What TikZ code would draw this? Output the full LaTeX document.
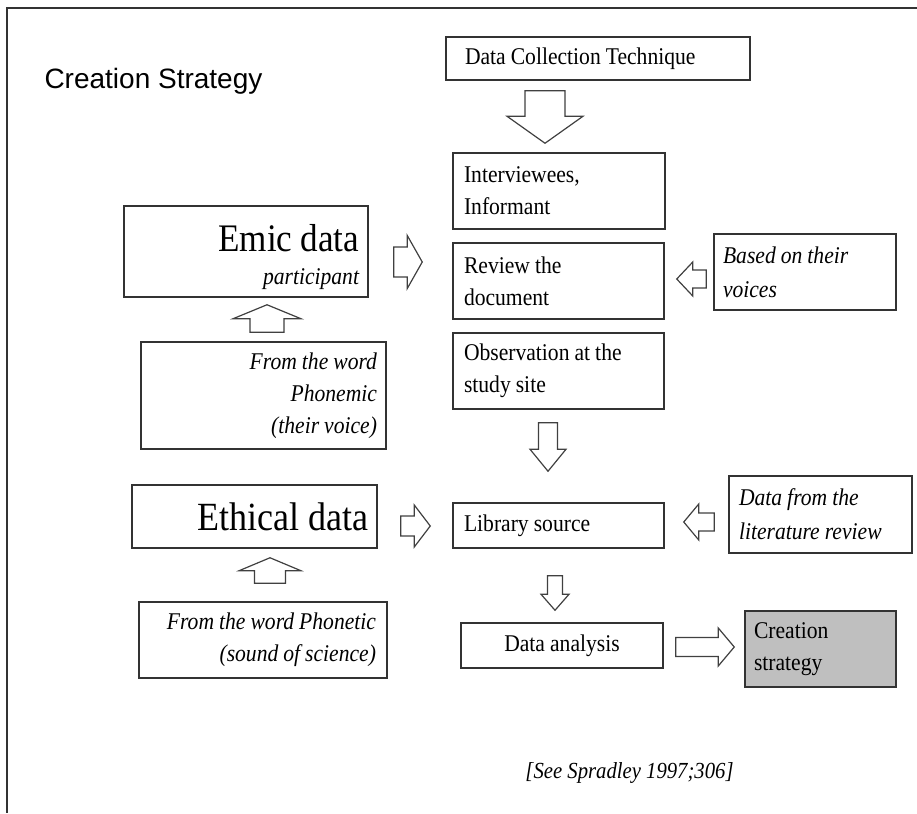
\documentclass[tikz,border=0pt]{standalone}
\usepackage{fontspec}
\setmainfont[FakeStretch=0.9]{Liberation Serif}
\setsansfont{Liberation Sans}
\usetikzlibrary{calc}

\tikzset{
  box/.style={draw=black!80, line width=1.5pt, rectangle, inner sep=0pt, align=left,
    font=\fontsize{24}{32}\selectfont, execute at begin node={\spaceskip=0.21em\relax}},
  note/.style={box, font=\fontsize{24}{34}\selectfont\itshape},
  fat/.style={draw=black!75, line width=1.2pt, fill=white, line join=miter},
}

% tail, tip, half shaft, half head, head length
\newcommand{\fatarrow}[5]{%
  \path #1 coordinate (fa-t) #2 coordinate (fa-p);
  \path ($(fa-p)!#5!(fa-t)$) coordinate (fa-h);
  \draw[fat] ($(fa-t)!#3!90:(fa-p)$) -- ($(fa-h)!#3!-90:(fa-t)$) -- ($(fa-h)!#4!-90:(fa-t)$)
    -- (fa-p) -- ($(fa-h)!#4!90:(fa-t)$) -- ($(fa-h)!#3!90:(fa-t)$) -- ($(fa-t)!#3!-90:(fa-p)$) -- cycle;
}

\begin{document}
\begin{tikzpicture}[x=1pt, y=-1pt]
  \useasboundingbox (0,0) rectangle (917,813);
  \draw[line width=2pt, black!80] (917,8) -- (7,8) -- (7,813);

  \node[anchor=base west, font=\sffamily\fontsize{28}{30}\selectfont] (title) at (41,89) {Creation Strategy};

  % middle column
  \node[box, minimum width=304pt, minimum height=43pt, text width=266pt] (dct) at (598,58.5) {Data Collection Technique};
  \node[box, minimum width=212pt, minimum height=76pt, text width=190pt] (interv) at (559,191) {Interviewees,\\Informant};
  \node[box, minimum width=211pt, minimum height=76pt, text width=189pt] (review) at (558.5,281) {Review the\\document};
  \node[box, minimum width=211pt, minimum height=76pt, text width=189pt] (observ) at (558.5,371) {Observation at the\\study site};
  \node[box, minimum width=211pt, minimum height=45pt, text width=189pt] (library) at (558.5,525.5) {Library source};
  \node[box, align=center, minimum width=202pt, minimum height=45pt, text width=180pt] (analysis) at (562,645.5) {Data analysis};
  \node[box, fill=black!25, minimum width=151pt, minimum height=76pt, text width=133pt] (strategy) at (820.5,649) {Creation\\strategy};

  % right column
  \node[note, minimum width=182pt, minimum height=76pt, text width=164pt] (voices) at (805,272) {Based on their\\voices};
  \node[note, minimum width=183pt, minimum height=77pt, text width=163pt] (litrev) at (820.5,514.5) {Data from the\\literature review};

  % left column
  \node[box, align=right, minimum width=244pt, minimum height=91pt, text width=226pt, font=\fontsize{24}{33}\selectfont] (emic) at (246,251.5)
    {\rule{0pt}{39pt}{\fontsize{39}{33}\selectfont\spaceskip=0.21em Emic data}\\{\itshape participant}};
  \node[note, align=right, minimum width=245pt, minimum height=107pt, text width=227pt, font=\fontsize{24}{32}\selectfont\itshape] (phonemic) at (263.5,395.5)
    {From the word\\Phonemic\\(their voice)};
  \node[box, align=right, minimum width=245pt, minimum height=63pt, text width=227pt, font=\fontsize{40}{40}\selectfont] (ethical) at (254.5,516.5) {Ethical data};
  \node[note, align=right, minimum width=248pt, minimum height=76pt, text width=226pt, font=\fontsize{24}{32}\selectfont\itshape] (phonetic) at (263,640)
    {From the word Phonetic\\(sound of science)};

  \node[font=\fontsize{23}{25}\selectfont\itshape] (cite) at (629.5,773) {[See Spradley 1997;306]};

  % block arrows
  \fatarrow{($(dct.south)+(-53,10)$)}{($(interv.north)+(-14,-9)$)}{20pt}{38pt}{27pt}
  \fatarrow{($(observ.south)+(-10.5,13)$)}{($(library.north)+(-10.5,-31)$)}{9.5pt}{18pt}{22pt}
  \fatarrow{($(library.south)+(-3.5,27)$)}{($(analysis.north)+(-7,-12)$)}{7.5pt}{14pt}{16pt}
  \fatarrow{($(analysis.east)+(12,1.5)$)}{($(strategy.west)+(-10,-2)$)}{9.5pt}{19pt}{16pt}
  \fatarrow{($(emic.east)+(25,10.5)$)}{($(review.west)+(-30,-19)$)}{15pt}{26.5pt}{15pt}
  \fatarrow{($(ethical.east)+(23,9.5)$)}{($(library.west)+(-22,0.5)$)}{10pt}{21pt}{16pt}
  \fatarrow{($(phonemic.north)+(3.5,-9)$)}{($(emic.south)+(21,7)$)}{17pt}{34pt}{14pt}
  \fatarrow{($(phonetic.north)+(7,-18)$)}{($(ethical.south)+(15.5,9)$)}{15.5pt}{31pt}{13pt}
  \fatarrow{($(voices.west)+(-7,7)$)}{($(review.east)+(12,-2)$)}{9pt}{17pt}{16pt}
  \fatarrow{($(litrev.west)+(-14,7.5)$)}{($(library.east)+(19,-3.5)$)}{9pt}{18pt}{15pt}
\end{tikzpicture}
\end{document}
